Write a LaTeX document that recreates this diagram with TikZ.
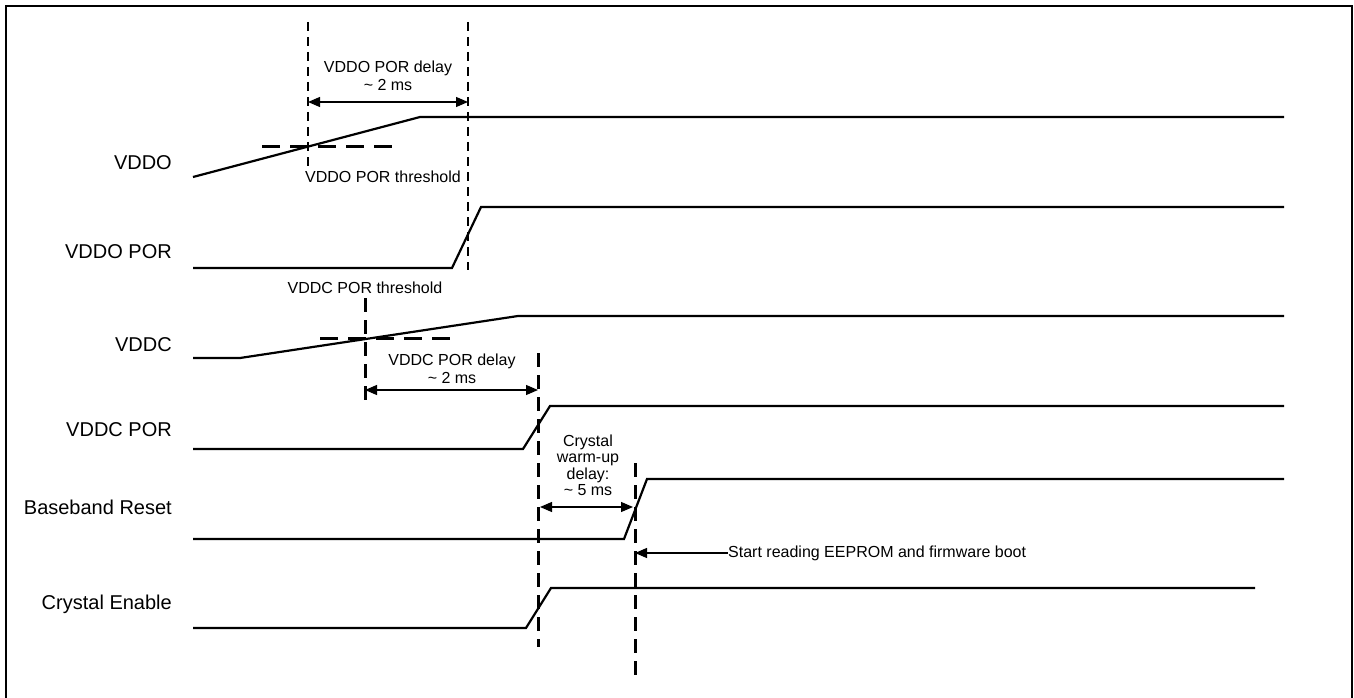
\documentclass[tikz,border=0pt]{standalone}
\usepackage{fontspec}
\setmainfont{Liberation Sans}
\usetikzlibrary{arrows.meta}

\begin{document}
\begin{tikzpicture}[x=1pt, y=-1pt,
    sig/.style={line width=2.2pt, line join=miter},
    thin guide/.style={line width=1.6pt, dash pattern=on 9pt off 6pt},
    thick guide/.style={line width=3pt, dash pattern=on 14pt off 8pt},
    thresh/.style={line width=3pt, dash pattern=on 18pt off 10pt},
    span/.style={line width=1.2pt, {Triangle[length=12pt, width=10pt]}-{Triangle[length=12pt, width=10pt]}},
    lbl/.style={font=\fontsize{20}{22}\selectfont, anchor=east, inner sep=0pt},
    note/.style={font=\fontsize{16}{18}\selectfont, align=center, inner sep=0pt}]
    \useasboundingbox (0, 0) rectangle (1354, 698);
    \draw[line width=2pt] (6, 720) -- (6, 6) -- (1352, 6) -- (1352, 720);

    % signal names
    \node[lbl] (vddo)   at (172, 163) {VDDO};
    \node[lbl] (vddop)  at (172, 252) {VDDO POR};
    \node[lbl] (vddc)   at (172, 345) {VDDC};
    \node[lbl] (vddcp)  at (172, 430) {VDDC POR};
    \node[lbl] (bbrst)  at (172, 507) {Baseband Reset};
    \node[lbl] (xtalen) at (172, 604) {Crystal Enable};

    % waveforms
    \draw[sig] (193, 177) -- (420, 117) -- (1284, 117);
    \draw[sig] (193, 268) -- (452, 268) -- (481, 207) -- (1284, 207);
    \draw[sig] (193, 358) -- (240, 358) -- (518, 316) -- (1284, 316);
    \draw[sig] (193, 449) -- (523, 449) -- (550, 406) -- (1284, 406);
    \draw[sig] (193, 539) -- (624, 539) -- (647, 479) -- (1284, 479);
    \draw[sig] (193, 628) -- (526, 628) -- (551, 588) -- (1255, 588);

    % thresholds
    \draw[thresh] (262, 146) -- (393, 146);
    \draw[thresh] (320, 338) -- (453, 338);
    \node[note] (vddoth) at (383, 177) {VDDO POR threshold};
    \node[note] (vddcth) at (365, 288) {VDDC POR threshold};

    % guide lines
    \coordinate (g1t) at (308, 22);  \coordinate (g1b) at (308, 168);
    \coordinate (g2t) at (468, 22);  \coordinate (g2b) at (468, 270);
    \coordinate (g3t) at (365, 298); \coordinate (g3b) at (365, 403);
    \coordinate (g4t) at (538, 353); \coordinate (g4b) at (538, 647);
    \coordinate (g5t) at (635, 463); \coordinate (g5b) at (635, 680);
    \draw[thin guide] (g1t) -- (g1b);
    \draw[thin guide] (g2t) -- (g2b);
    \draw[thick guide] (g3t) -- (g3b);
    \draw[thick guide] (g4t) -- (g4b);
    \draw[thick guide] (g5t) -- (g5b);

    % delays
    \draw[span] (g1t |- 0, 102) -- (g2t |- 0, 102);
    \node[note, anchor=south] (vddodly) at (388, 91) {VDDO POR delay\\\textasciitilde\ 2 ms};
    \draw[span] (g3t |- 0, 390) -- (g4t |- 0, 390);
    \node[note, anchor=south] (vddcdly) at (452, 384) {VDDC POR delay\\\textasciitilde\ 2 ms};
    \draw[span] (540, 507) -- (633, 507);
    \node[note, anchor=south, font=\fontsize{16}{16.5}\selectfont] (xtaldly) at (588, 496) {Crystal\\warm-up\\delay:\\\textasciitilde\ 5 ms};

    \node[note, anchor=west] (boot) at (728, 553) {Start reading EEPROM and firmware boot};
    \draw[line width=1.2pt, -{Triangle[length=12pt, width=10pt]}] (boot.west) -- (g5t |- boot.west);
\end{tikzpicture}
\end{document}
